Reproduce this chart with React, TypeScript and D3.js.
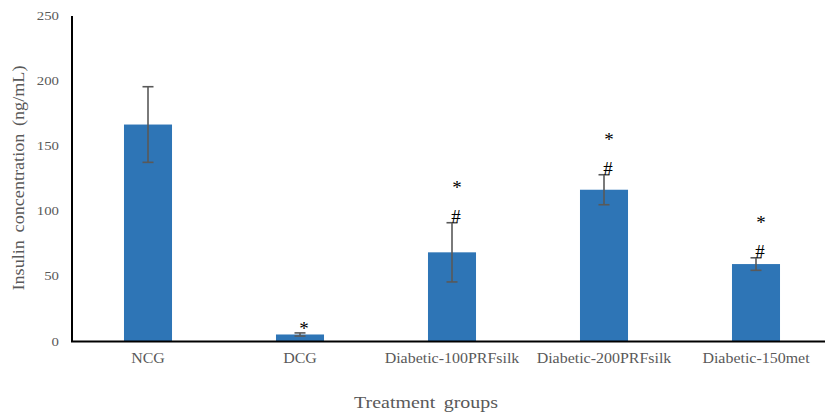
import React from 'react';
import * as d3 from 'd3';

const groups = ['NCG', 'DCG', 'Diabetic-100PRFsilk', 'Diabetic-200PRFsilk', 'Diabetic-150met'];
const means = [166, 5, 68, 116, 59];
const errors = [29, 1.2, 22.7, 11.5, 4.8];
const marks = ['', '*', '*#', '*#', '*#'];
const yTicks = [0, 50, 100, 150, 200, 250];

const W = 825;
const H = 416;
const serif = '"Liberation Serif", "Times New Roman", serif';
const sx = 1.14; // the reference text is a bit wider than it is tall

export default function App() {
  const x = d3.scaleBand<string>()
    .domain(groups)
    .range([72, 832])
    .paddingInner(0.684)
    .paddingOuter(0.342);
  const y = d3.scaleLinear().domain([0, 250]).range([341, 15]);

  return (
    <svg width={W} height={H} style={{ position: 'absolute', left: 0, top: 0, background: '#fff' }}>
      {/* y tick labels */}
      {yTicks.map(t => (
        <text key={t} transform={`translate(59,${y(t) + 4.5}) scale(${sx},1)`}
          textAnchor="end" fontFamily={serif} fontSize={13} fill="#595959">{t}</text>
      ))}

      {/* bars */}
      {groups.map((g, i) => (
        <rect key={g} x={x(g)} y={y(means[i])} width={x.bandwidth()}
          height={y(0) - y(means[i])} fill="#2E75B6" />
      ))}

      {/* error bars */}
      {groups.map((g, i) => {
        const cx = (x(g) as number) + x.bandwidth() / 2;
        const top = y(means[i] + errors[i]);
        const bot = y(means[i] - errors[i]);
        return (
          <g key={g} stroke="#595959" strokeWidth={1.6}>
            <line x1={cx} x2={cx} y1={top} y2={bot} />
            <line x1={cx - 5.5} x2={cx + 5.5} y1={top} y2={top} />
            <line x1={cx - 5.5} x2={cx + 5.5} y1={bot} y2={bot} />
          </g>
        );
      })}

      {/* significance marks */}
      {groups.map((g, i) => {
        if (!marks[i]) return null;
        const cx = (x(g) as number) + x.bandwidth() / 2 + 4;
        const top = y(means[i] + errors[i]);
        if (marks[i] === '*') {
          return (
            <text key={g} x={cx} y={top + 2} textAnchor="middle" fontFamily={serif}
              fontSize={19} fill="#000">*</text>
          );
        }
        return (
          <g key={g} fontFamily={serif} fontSize={19} fill="#000" textAnchor="middle">
            <text x={cx + 1} y={top - 29}>*</text>
            <text x={cx} y={top}>#</text>
          </g>
        );
      })}

      {/* axes */}
      <line x1={72} x2={72} y1={16} y2={342} stroke="#000" strokeWidth={2} />
      <line x1={71} x2={W} y1={341.5} y2={341.5} stroke="#000" strokeWidth={2} />

      {/* category labels */}
      {groups.map(g => (
        <text key={g} transform={`translate(${(x(g) as number) + x.bandwidth() / 2},${363}) scale(${sx},1)`}
          textAnchor="middle" fontFamily={serif} fontSize={14} fill="#595959">{g}</text>
      ))}

      {/* axis titles */}
      <text transform={`translate(426,408) scale(${sx},1)`} textAnchor="middle"
        fontFamily={serif} fontSize={17.5} fill="#595959" wordSpacing={3}>Treatment groups</text>
      <text transform="translate(24,178) rotate(-90)" textAnchor="middle"
        fontFamily={serif} fontSize={17.5} fill="#595959" wordSpacing={3}
        textLength={225} lengthAdjust="spacingAndGlyphs">Insulin concentration (ng/mL)</text>
    </svg>
  );
}
